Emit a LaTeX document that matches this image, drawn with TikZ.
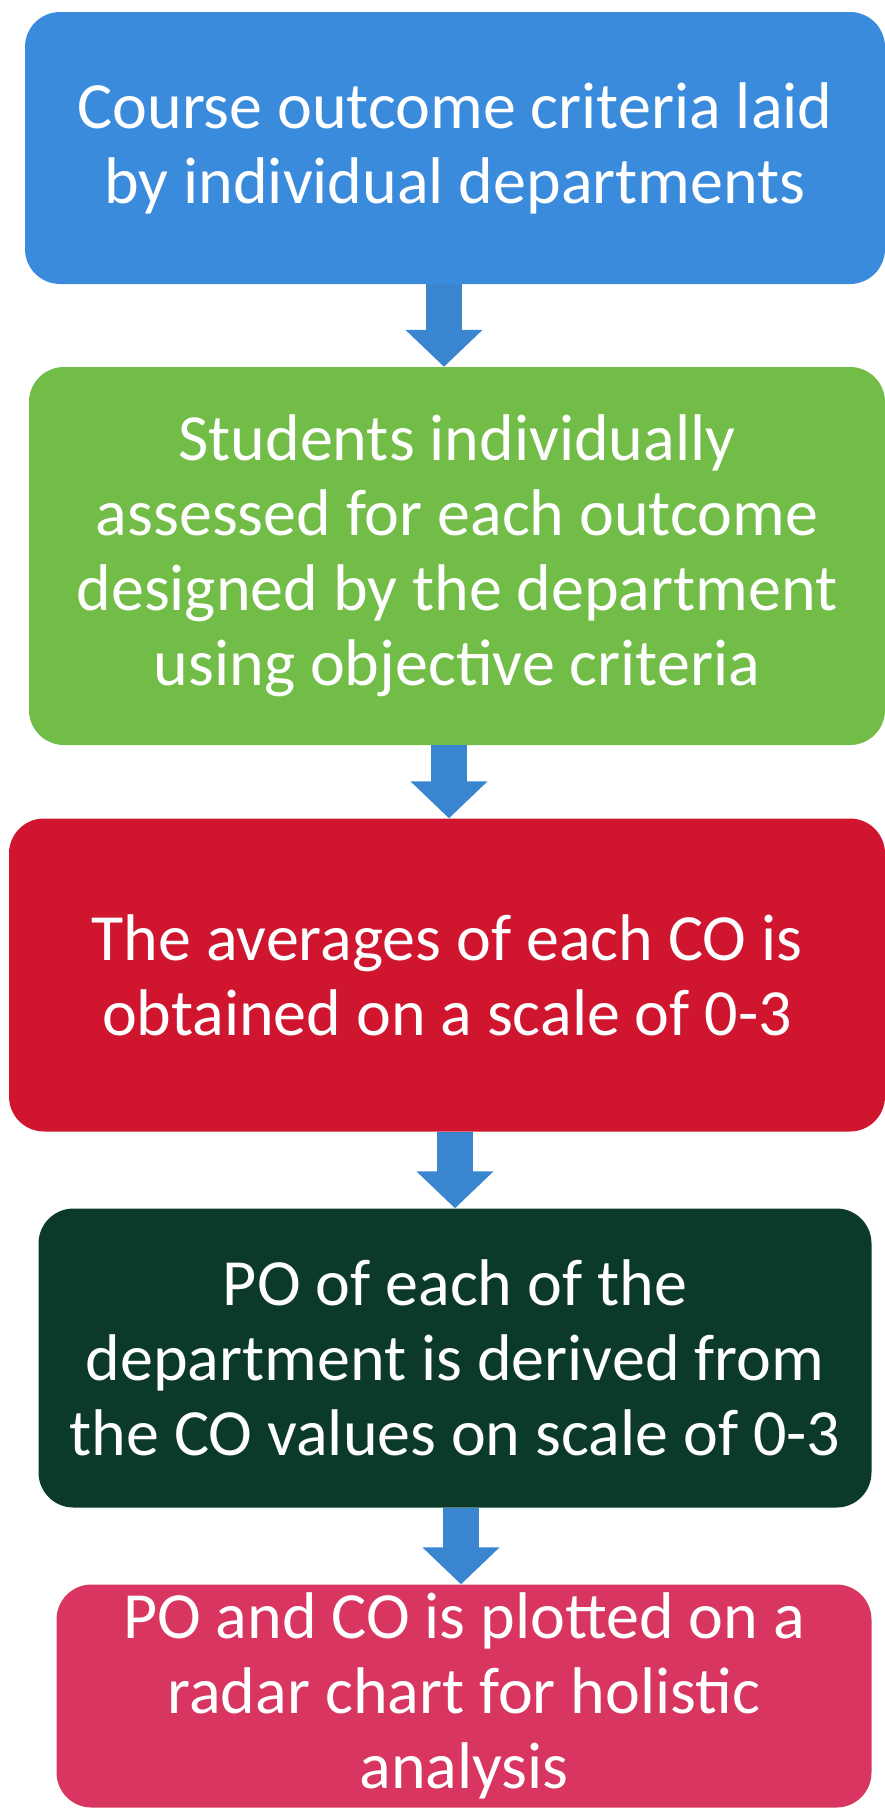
\documentclass[tikz,border=0pt]{standalone}
\usepackage{fontspec}
\setmainfont{Carlito}
\usetikzlibrary{arrows.meta}
\definecolor{boxblue}{RGB}{58,139,219}
\definecolor{boxgreen}{RGB}{114,188,72}
\definecolor{boxred}{RGB}{208,22,47}
\definecolor{boxdark}{RGB}{11,58,40}
\definecolor{boxpink}{RGB}{216,53,96}
\definecolor{arrowblue}{RGB}{58,133,208}
\tikzstyle{every node}=[inner sep=0pt,rounded corners=35pt,align=center,text=white,
    font=\fontsize{66}{75}\selectfont]
\tikzstyle{criteria}=[fill=boxblue]
\tikzstyle{assess}=[fill=boxgreen]
\tikzstyle{average}=[fill=boxred]
\tikzstyle{derive}=[fill=boxdark]
\tikzstyle{plot}=[fill=boxpink]
\tikzstyle{flow}=[draw=arrowblue,line width=36pt,-{Triangle[width=75pt,length=37pt]}]

\begin{document}
\begin{tikzpicture}[x=1pt,y=-1pt]
    \useasboundingbox (0,0) rectangle (885,1810);
    \node [criteria,minimum width=860pt,minimum height=272pt] (course) at (455,148)
        {Course outcome criteria laid\\by individual departments};
    \node [assess,minimum width=856pt,minimum height=378pt] (students) at (457,556)
        {Students individually\\assessed for each outcome\\designed by the department\\using objective criteria};
    \node [average,minimum width=876pt,minimum height=313pt] (averages) at (447,975)
        {The averages of each CO is\\obtained on a scale of 0-3};
    \node [derive,minimum width=833pt,minimum height=299pt] (po) at (455,1358)
        {PO of each of the\\department is derived from\\the CO values on scale of 0-3};
    \node [plot,minimum width=815pt,minimum height=223pt] (radar) at (464,1696)
        {PO and CO is plotted on a\\radar chart for holistic\\analysis};
    % arrows between the stages
    \draw [flow] ([xshift=-11pt]course.south) -- ([xshift=-13pt]students.north);
    \draw [flow] ([xshift=-8pt]students.south) -- ([xshift=2pt]averages.north);
    \draw [flow] ([xshift=8pt]averages.south) -- (po.north);
    \draw [flow] ([xshift=6pt]po.south) -- ([xshift=-3pt]radar.north);
\end{tikzpicture}
\end{document}
